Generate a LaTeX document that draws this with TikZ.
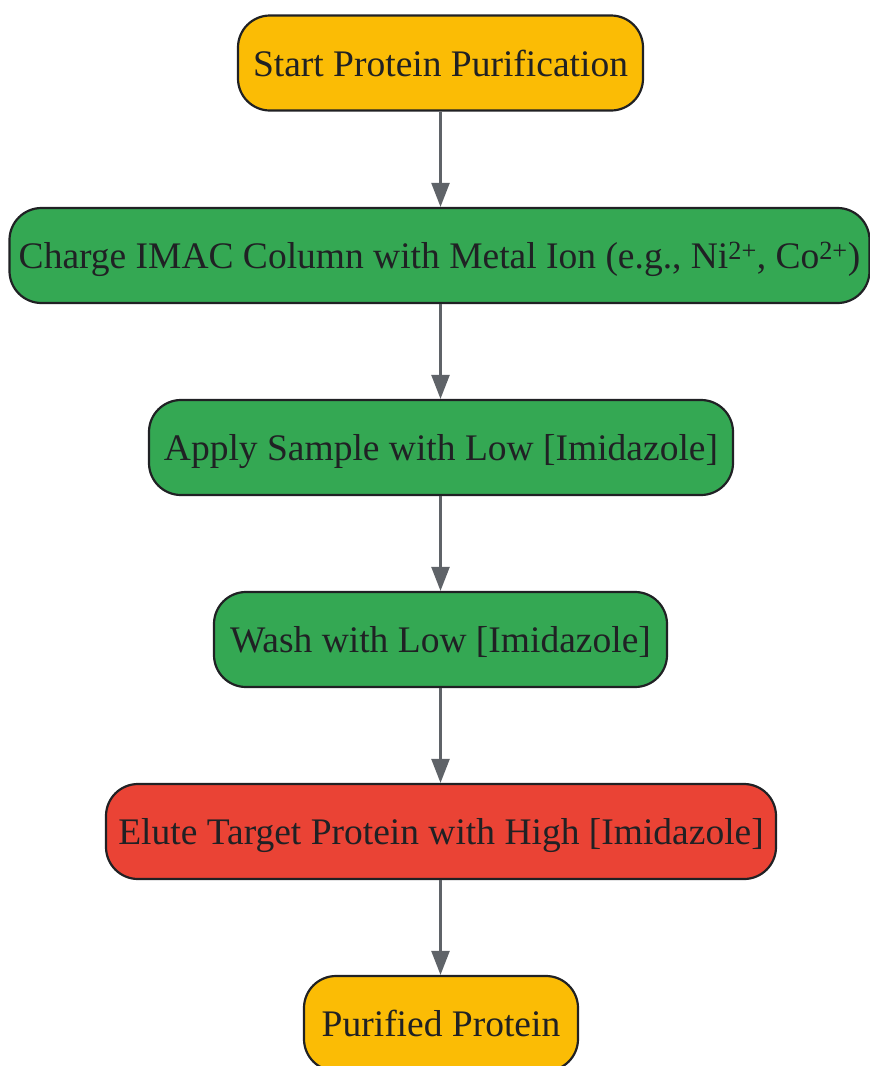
\documentclass[tikz,border=0pt]{standalone}
\usepackage{fontspec}
\setmainfont{Liberation Serif}
\usetikzlibrary{arrows.meta}
\definecolor{cyellow}{HTML}{FBBC05}
\definecolor{cgreen}{HTML}{34A853}
\definecolor{cred}{HTML}{EA4335}
\definecolor{ctext}{HTML}{202124}
\definecolor{carrow}{HTML}{5F6368}
\tikzset{
  box/.style={draw=ctext, line width=2.2pt, rounded corners=32pt, minimum height=95pt,
    inner xsep=0pt, text height=30pt, text depth=4pt, text=ctext,
    font=\fontsize{37.5}{42}\selectfont, anchor=center},
  flow/.style={draw=carrow, line width=2.4pt, -{Triangle[length=24pt,width=18pt]}}
}
\begin{document}
\begin{tikzpicture}[x=1pt,y=-1pt]
\useasboundingbox (0,0) rectangle (870,1066);
\node[box, fill=cyellow, minimum width=405pt] (a) at (440.5,63) {Start Protein Purification};
\node[box, fill=cgreen, minimum width=860pt] (b) at (439.5,255.5) {Charge IMAC Column with Metal Ion (e.g., Ni\textsuperscript{2+}, Co\textsuperscript{2+})};
\node[box, fill=cgreen, minimum width=584pt] (c) at (441,447.5) {Apply Sample with Low [Imidazole]};
\node[box, fill=cgreen, minimum width=453pt] (d) at (440.5,639.5) {Wash with Low [Imidazole]};
\node[box, fill=cred, minimum width=670pt] (e) at (441,831.5) {Elute Target Protein with High [Imidazole]};
\node[box, fill=cyellow, minimum width=274pt] (f) at (441,1023.5) {Purified Protein};
\draw[flow] (a.south -| 440.5,0) -- (b.north -| 440.5,0);
\draw[flow] (b.south -| 440.5,0) -- (c.north -| 440.5,0);
\draw[flow] (c.south -| 440.5,0) -- (d.north -| 440.5,0);
\draw[flow] (d.south -| 440.5,0) -- (e.north -| 440.5,0);
\draw[flow] (e.south -| 440.5,0) -- (f.north -| 440.5,0);
\end{tikzpicture}
\end{document}
